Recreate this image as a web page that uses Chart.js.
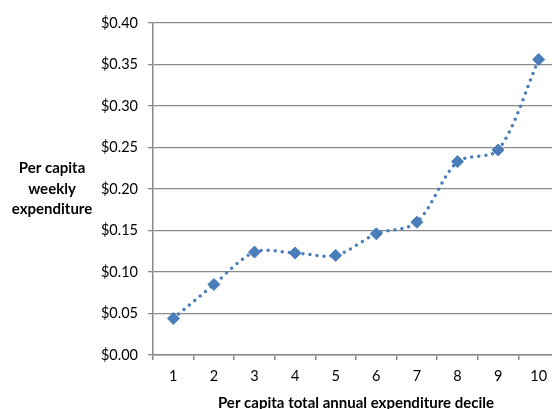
<!DOCTYPE html>
<html>
<head>
<meta charset="utf-8">
<script src="https://cdn.jsdelivr.net/npm/chart.js@4.4.1/dist/chart.umd.min.js"></script>
<style>
  html, body { margin: 0; padding: 0; background: #fff; overflow: hidden; }
  canvas { display: block; }
</style>
</head>
<body>
<canvas id="spendChart" width="566" height="418"></canvas>
<script>
// deciles and weekly spend
var deciles = ["1", "2", "3", "4", "5", "6", "7", "8", "9", "10"];
var weeklySpend = [0.044, 0.085, 0.124, 0.123, 0.120, 0.146, 0.160, 0.233, 0.247, 0.356];
var yTitleLines = ["Per capita", "weekly", "expenditure"];
var xTitle = "Per capita total annual expenditure decile";

var fontFamily = "Lato, 'Open Sans', sans-serif";
var blue = "#4a7ebb";
var gridGray = "#8a8a8a";

// y axis title sits flat on the left, so draw it ourselves
var flatYTitle = {
    id: "flatYTitle",
    afterDraw: function(chart) {
        var c = chart.ctx;
        c.save();
        c.font = "bold 15px " + fontFamily;
        c.fillStyle = "#000";
        c.textAlign = "center";
        c.textBaseline = "middle";
        var ys = [168, 189, 209];
        for (var i = 0; i < yTitleLines.length; i++) {
            c.fillText(yTitleLines[i], 52, ys[i]);
        }
        c.restore();
    }
};

var ctx = document.getElementById("spendChart").getContext("2d");
var chart = new Chart(ctx, {
    type: "line",
    data: {
        labels: deciles,
        datasets: [{
            data: weeklySpend,
            borderColor: blue,
            backgroundColor: blue,
            borderWidth: 3.5,
            borderDash: [0, 7],
            borderCapStyle: "round",
            tension: 0.3,
            pointStyle: "rectRot",
            pointRadius: 6,
            pointBorderWidth: 1,
            pointBorderColor: blue,
            pointBackgroundColor: blue
        }]
    },
    options: {
        responsive: false,
        animation: false,
        devicePixelRatio: 1,
        layout: { padding: { left: 0, right: 4, top: 23, bottom: 0 } },
        plugins: {
            legend: { display: false },
            tooltip: { enabled: false }
        },
        scales: {
            x: {
                offset: true,
                grid: {
                    offset: true,
                    drawOnChartArea: false,
                    drawTicks: true,
                    tickLength: 5,
                    color: gridGray,
                    lineWidth: 1.5
                },
                border: { color: gridGray, width: 1.5 },
                ticks: {
                    color: "#000",
                    padding: 8,
                    maxRotation: 0,
                    font: { family: fontFamily, size: 14.5 }
                },
                title: {
                    display: true,
                    text: xTitle,
                    color: "#000",
                    padding: { top: 0, bottom: 6 },
                    font: { family: fontFamily, size: 15, weight: "bold" }
                },
                afterFit: function(scale) { scale.height = 63; }
            },
            y: {
                min: 0,
                max: 0.4,
                grid: {
                    color: gridGray,
                    lineWidth: 1.3,
                    tickLength: 5
                },
                border: { color: gridGray, width: 1.5 },
                ticks: {
                    stepSize: 0.05,
                    color: "#000",
                    padding: 10,
                    font: { family: fontFamily, size: 14.5 },
                    callback: function(v) { return "$" + v.toFixed(2); }
                },
                afterFit: function(scale) { scale.width = 153; }
            }
        }
    },
    plugins: [flatYTitle]
});
</script>
</body>
</html>
